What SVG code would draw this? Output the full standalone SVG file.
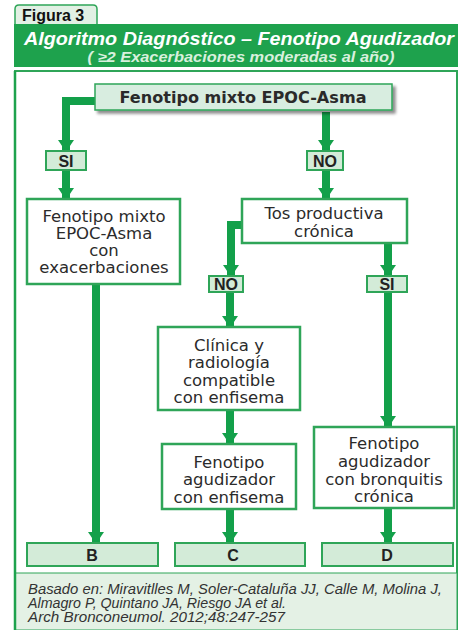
<svg xmlns="http://www.w3.org/2000/svg" width="459" height="630" viewBox="0 0 459 630">
<style>
.box{fill:#ffffff;stroke:#2fa558;stroke-width:2.5}
.lbl{fill:#d3ebd8;stroke:#2fa558;stroke-width:2}
.t{font-family:"DejaVu Sans",sans-serif;font-size:16.5px;fill:#2b2b2b;text-anchor:middle}
.b{font-family:"Liberation Sans",Arial,sans-serif;font-weight:bold;font-size:16px;fill:#222;text-anchor:middle}
.con{fill:none;stroke:#13a04a;stroke-width:8}
.foot{font-family:"Liberation Sans",Arial,sans-serif;font-style:italic;font-size:15px;fill:#333}
</style>
<defs>
<marker id="ah" markerUnits="userSpaceOnUse" markerWidth="22" markerHeight="16" refX="15" refY="11" orient="auto" viewBox="0 0 16 22">
<path d="M0,0 L16,11 L0,22 Z" fill="#13a04a"/>
</marker>
<filter id="sh" x="-5%" y="-20%" width="115%" height="160%">
<feGaussianBlur in="SourceAlpha" stdDeviation="1.5"/>
<feOffset dx="3" dy="3"/>
<feComponentTransfer><feFuncA type="linear" slope="0.45"/></feComponentTransfer>
<feMerge><feMergeNode/><feMergeNode in="SourceGraphic"/></feMerge>
</filter>
</defs>
<rect width="459" height="630" fill="#ffffff"/>
<g id="header">
<path d="M15,25 V9 Q15,5 19,5 H93 Q97,5 97,9 V25 Z" fill="#e2f0e4" stroke="#2fa558" stroke-width="1.5"/>
<text x="22" y="21" font-family="Liberation Sans,Arial,sans-serif" font-weight="bold" font-size="16" fill="#111">Figura 3</text>
<rect x="14" y="24" width="444" height="43" fill="#1ea24d"/>
<text x="239" y="45" font-family="Liberation Sans,Arial,sans-serif" font-weight="bold" font-style="italic" font-size="18" fill="#ffffff" text-anchor="middle" textLength="430" lengthAdjust="spacingAndGlyphs">Algoritmo Diagnóstico – Fenotipo Agudizador</text>
<text x="241" y="62" font-family="Liberation Sans,Arial,sans-serif" font-weight="bold" font-style="italic" font-size="14" fill="#d8f0dd" text-anchor="middle" textLength="307" lengthAdjust="spacingAndGlyphs">( ≥2 Exacerbaciones moderadas al año)</text>
</g>
<g id="frame">
<rect x="15" y="71" width="442" height="559" fill="#ffffff" stroke="#2fa558" stroke-width="2"/>
<rect x="15" y="573" width="442" height="57" fill="#e4f1e5" stroke="#2fa558" stroke-width="1"/>
<line x1="15" y1="71" x2="15" y2="630" stroke="#1ea24d" stroke-width="2.5"/>
</g>
<g id="connectors">
<path class="con" d="M96,101 H66 V151" marker-end="url(#ah)"/>
<path class="con" d="M326,112 V151" marker-end="url(#ah)"/>
<path class="con" d="M66,170 V199" marker-end="url(#ah)"/>
<path class="con" d="M326,170 V199" marker-end="url(#ah)"/>
<path class="con" d="M243,225 H231 V276" marker-end="url(#ah)"/>
<path class="con" d="M388,243 V276" marker-end="url(#ah)"/>
<path class="con" d="M96,284 V543" marker-end="url(#ah)"/>
<path class="con" d="M230,292 V327" marker-end="url(#ah)"/>
<path class="con" d="M388,292 V427" marker-end="url(#ah)"/>
<path class="con" d="M230,410 V444" marker-end="url(#ah)"/>
<path class="con" d="M230,509 V543" marker-end="url(#ah)"/>
<path class="con" d="M388,508 V543" marker-end="url(#ah)"/>
</g>
<g id="n-root">
<rect x="95" y="84" width="297" height="26" fill="#d8ede0" stroke="#2fa558" stroke-width="1.5" filter="url(#sh)"/>
<text x="243" y="103" font-family="DejaVu Sans,sans-serif" font-weight="bold" font-size="15.5" fill="#2a2a2a" text-anchor="middle" textLength="247" lengthAdjust="spacingAndGlyphs">Fenotipo mixto EPOC-Asma</text>
</g>
<g id="n-si1"><rect class="lbl" x="46" y="151" width="40" height="19"/><text class="b" x="66" y="166.5">SI</text></g>
<g id="n-no1"><rect class="lbl" x="307" y="151" width="36" height="19"/><text class="b" x="325" y="166.5">NO</text></g>
<g id="n-mixto">
<rect class="box" x="27" y="199" width="153" height="85"/>
<text class="t" x="104" y="222">Fenotipo mixto</text>
<text class="t" x="104" y="239">EPOC-Asma</text>
<text class="t" x="104" y="256">con</text>
<text class="t" x="104" y="273">exacerbaciones</text>
</g>
<g id="n-tos">
<rect class="box" x="242" y="199" width="165" height="44"/>
<text class="t" x="324" y="219">Tos productiva</text>
<text class="t" x="324" y="237">crónica</text>
</g>
<g id="n-no2"><rect class="lbl" x="209" y="276" width="34" height="16"/><text class="b" x="226" y="290">NO</text></g>
<g id="n-si2"><rect class="lbl" x="367" y="276" width="40" height="16"/><text class="b" x="387" y="290">SI</text></g>
<g id="n-clinica">
<rect class="box" x="158" y="327" width="142" height="83"/>
<text class="t" x="229" y="351">Clínica y</text>
<text class="t" x="229" y="368">radiología</text>
<text class="t" x="229" y="386">compatible</text>
<text class="t" x="229" y="403">con enfisema</text>
</g>
<g id="n-enfisema">
<rect class="box" x="162" y="444" width="134" height="65"/>
<text class="t" x="229" y="468">Fenotipo</text>
<text class="t" x="229" y="485">agudizador</text>
<text class="t" x="229" y="503">con enfisema</text>
</g>
<g id="n-bronquitis">
<rect class="box" x="314" y="427" width="140" height="81"/>
<text class="t" x="384" y="449">Fenotipo</text>
<text class="t" x="384" y="467">agudizador</text>
<text class="t" x="384" y="485">con bronquitis</text>
<text class="t" x="384" y="502">crónica</text>
</g>
<g id="n-b"><rect class="lbl" x="27" y="543" width="131" height="23"/><text class="b" x="92" y="561" font-size="17">B</text></g>
<g id="n-c"><rect class="lbl" x="175" y="543" width="130" height="23"/><text class="b" x="233" y="561" font-size="17">C</text></g>
<g id="n-d"><rect class="lbl" x="322" y="543" width="131" height="23"/><text class="b" x="387" y="561" font-size="17">D</text></g>
<g id="footer">
<text class="foot" x="28" y="594" textLength="414" lengthAdjust="spacingAndGlyphs">Basado en: Miravitlles M, Soler-Cataluña JJ, Calle M, Molina J,</text>
<text class="foot" x="28" y="608" textLength="258" lengthAdjust="spacingAndGlyphs">Almagro P, Quintano JA, Riesgo JA et al.</text>
<text class="foot" x="28" y="622" textLength="257" lengthAdjust="spacingAndGlyphs">Arch Bronconeumol. 2012;48:247-257</text>
</g>
</svg>
